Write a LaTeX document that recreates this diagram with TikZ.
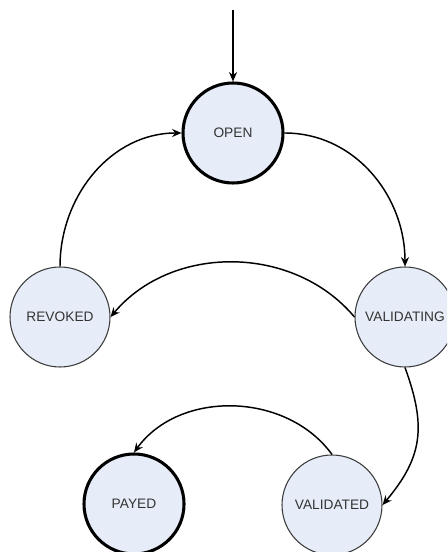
\documentclass[tikz,border=0pt]{standalone}
\usepackage{fontspec}
\setmainfont{Liberation Sans}
\usetikzlibrary{arrows.meta}
\definecolor{statefill}{RGB}{231,237,248}
\definecolor{statetext}{RGB}{51,51,51}
\definecolor{stateline}{RGB}{60,60,60}
\begin{document}
\begin{tikzpicture}[x=0.75pt,y=0.75pt,
  state/.style={circle,draw=stateline,line width=0.8pt,fill=statefill,
    minimum size=75pt,inner sep=0pt,text=statetext,
    font=\fontsize{10.3}{12}\selectfont},
  terminal/.style={state,draw=black,line width=2.3pt},
  trans/.style={line width=1.1pt,-{Stealth[length=7pt,width=6pt]}}]
\useasboundingbox (0,0) rectangle (447,552);
\clip (0,0) rectangle (447,552);
% states
\node[terminal] (open)       at (233,419) {OPEN};
\node[state]    (revoked)    at (60,235)  {REVOKED};
\node[state]    (validating) at (405,235) {VALIDATING};
\node[terminal] (payed)      at (134,48)  {PAYED};
\node[state]    (validated)  at (332,47)  {VALIDATED};
\coordinate (start) at (233,542);
% transitions
\draw[trans] (start) -- (open.north);
\draw[trans] (open.east) to[out=0,in=90] (validating.north);
\draw[trans] (revoked.north) to[out=90,in=180] (open.west);
\draw[trans] (validating.west) to[out=130,in=50] (revoked.east);
\draw[trans] (validating.south) to[out=-70,in=50,looseness=1.15] (validated.east);
\draw[trans] (validated.north) to[out=126,in=54] (payed.north);
\end{tikzpicture}
\end{document}
